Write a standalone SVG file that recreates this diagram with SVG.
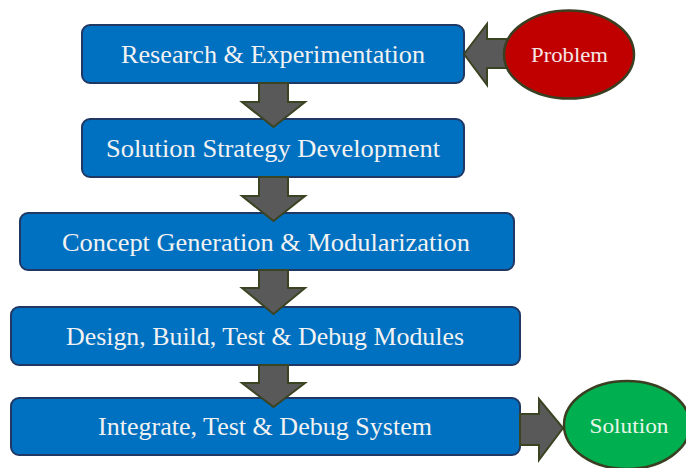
<svg xmlns="http://www.w3.org/2000/svg" width="686" height="468" viewBox="0 0 686 468">
  <style>
    .box { fill: #0070C0; stroke: #1F3864; stroke-width: 2; }
    .lbl { font-family: "Liberation Serif", "DejaVu Serif", serif; font-size: 26px; fill: #F2F2F2; text-anchor: middle; }
    .olbl { font-family: "Liberation Serif", "DejaVu Serif", serif; font-size: 22px; text-anchor: middle; }
    .arrow { fill: #595959; stroke: #3A4422; stroke-width: 2; stroke-linejoin: miter; }
    .ell { stroke: #3A3F22; stroke-width: 2.5; }
  </style>
  <rect width="686" height="468" fill="#FFFFFF"/>

  <g id="research">
    <rect class="box" x="82" y="25" width="382" height="58" rx="8"/>
    <text class="lbl" x="273" y="63" textLength="304" lengthAdjust="spacingAndGlyphs">Research &amp; Experimentation</text>
  </g>

  <g id="strategy">
    <rect class="box" x="82" y="119" width="382" height="58" rx="8"/>
    <text class="lbl" x="273" y="157" textLength="334" lengthAdjust="spacingAndGlyphs">Solution Strategy Development</text>
  </g>

  <g id="concept">
    <rect class="box" x="20" y="213" width="494" height="57" rx="8"/>
    <text class="lbl" x="266" y="251" textLength="408" lengthAdjust="spacingAndGlyphs">Concept Generation &amp; Modularization</text>
  </g>

  <g id="design">
    <rect class="box" x="11" y="307" width="509" height="58" rx="8"/>
    <text class="lbl" x="265" y="345" textLength="398" lengthAdjust="spacingAndGlyphs">Design, Build, Test &amp; Debug Modules</text>
  </g>

  <g id="integrate">
    <rect class="box" x="11" y="398" width="509" height="57" rx="8"/>
    <text class="lbl" x="265" y="435" textLength="334" lengthAdjust="spacingAndGlyphs">Integrate, Test &amp; Debug System</text>
  </g>

  <g id="connectors">
    <!-- Problem -> Research -->
    <polygon class="arrow" points="464,54 487,24 487,39 512,39 512,68 487,68 487,85"/>
    <!-- Down arrows -->
    <polygon class="arrow" points="259,83 288,83 288,102 305,102 273.5,127 242,102 259,102"/>
    <polygon class="arrow" points="259,177 288,177 288,196 305,196 273.5,221 242,196 259,196"/>
    <polygon class="arrow" points="259,270 288,270 288,288 305,288 273.5,314 242,288 259,288"/>
    <polygon class="arrow" points="259,365 288,365 288,383 305,383 273.5,407 242,383 259,383"/>
    <!-- Integrate -> Solution -->
    <polygon class="arrow" points="520,414 539,414 539,399 563,428 539,460 539,445 520,445"/>
  </g>

  <g id="problem">
    <ellipse class="ell" cx="569" cy="54.5" rx="65" ry="44" fill="#C00000"/>
    <text class="olbl" x="569.5" y="62" fill="#F5E6E6" textLength="77" lengthAdjust="spacingAndGlyphs">Problem</text>
  </g>

  <g id="solution">
    <ellipse class="ell" cx="627" cy="425" rx="63" ry="44" fill="#00B050"/>
    <text class="olbl" x="629" y="433" fill="#E8F5E8" textLength="79" lengthAdjust="spacingAndGlyphs">Solution</text>
  </g>
</svg>
